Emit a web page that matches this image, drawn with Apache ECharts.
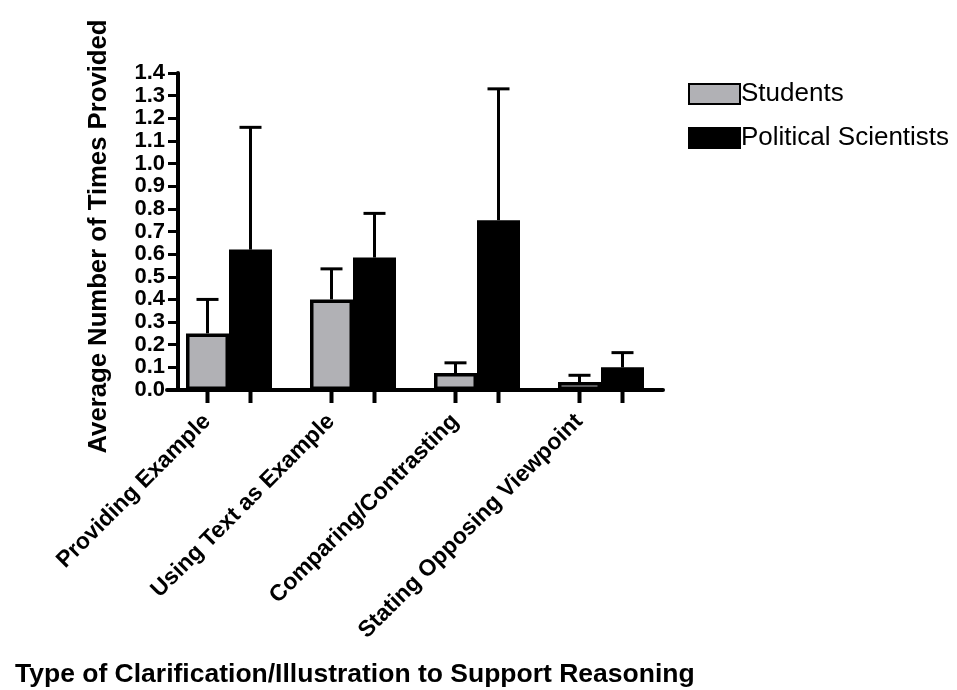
<!DOCTYPE html>
<html>
<head>
<meta charset="utf-8">
<script src="https://cdn.jsdelivr.net/npm/echarts@6/dist/echarts.min.js"></script>
<style>
html,body{margin:0;padding:0;background:#fff;}
#chart{width:957px;height:690px;}
</style>
</head>
<body>
<div id="chart"></div>
<script>
var categories = ["Providing Example", "Using Text as Example", "Comparing/Contrasting", "Stating Opposing Viewpoint"];
var studentsMean = [0.25, 0.40, 0.075, 0.035];
var studentsErr = [0.15, 0.135, 0.045, 0.03];
var politicalMean = [0.62, 0.585, 0.75, 0.10];
var politicalErr = [0.54, 0.195, 0.58, 0.065];
var yTicks = [0.0, 0.1, 0.2, 0.3, 0.4, 0.5, 0.6, 0.7, 0.8, 0.9, 1.0, 1.1, 1.2, 1.3, 1.4];

var FONT = '"Liberation Sans", Arial, Helvetica, sans-serif';
var BAR_W = 43;
var HALF = 21.5;

function errData(means, errs) {
  return means.map(function (m, i) { return [i, m, m + errs[i]]; });
}

function makeErrRender(side) {
  return function (params, api) {
    var idx = api.value(0);
    var base = api.coord([idx, api.value(1)]);
    var top = api.coord([idx, api.value(2)]);
    var zero = api.coord([idx, 0]);
    var x = base[0] + side * HALF;
    var cap = 11;
    var st = { stroke: '#000', lineWidth: 3 };
    return {
      type: 'group',
      children: [
        { type: 'line', shape: { x1: x, y1: base[1], x2: x, y2: top[1] }, style: st },
        { type: 'line', shape: { x1: x - cap, y1: top[1], x2: x + cap, y2: top[1] }, style: st },
        { type: 'line', shape: { x1: x, y1: zero[1], x2: x, y2: zero[1] + 13 }, style: { stroke: '#000', lineWidth: 4 } }
      ]
    };
  };
}

var chart = echarts.init(document.getElementById('chart'), null, { renderer: 'canvas' });
chart.setOption({
  animation: false,
  backgroundColor: '#fff',
  textStyle: { fontFamily: FONT },
  title: {
    text: 'Type of Clarification/Illustration to Support Reasoning',
    left: 10, top: 656,
    textStyle: { fontFamily: FONT, fontWeight: 'bold', fontSize: 26.5, color: '#000' }
  },
  legend: {
    orient: 'vertical',
    left: 688, top: 81,
    itemWidth: 51, itemHeight: 20, itemGap: 18,
    padding: 0,
    icon: 'rect',
    textStyle: { fontFamily: FONT, fontSize: 26, color: '#000', padding: [0, 0, 0, -4] },
    data: ['Students', 'Political Scientists']
  },
  grid: { left: 167, top: 73, width: 496, bottom: 300, containLabel: false },
  xAxis: {
    type: 'category',
    data: categories,
    axisLine: { lineStyle: { color: '#000', width: 4 } },
    axisTick: { show: false },
    axisLabel: {
      rotate: 45, margin: 6, interval: 0,
      padding: [0, 31, 0, 0],
      fontFamily: FONT, fontWeight: 'bold', fontSize: 23, color: '#000'
    }
  },
  yAxis: {
    type: 'value',
    min: 0, max: 1.4, interval: 0.1,
    offset: -11,
    name: 'Average Number of Times Provided',
    nameLocation: 'middle',
    nameGap: 66,
    nameTextStyle: { fontFamily: FONT, fontWeight: 'bold', fontSize: 25.7, color: '#000', padding: [0, 10, 0, 0] },
    axisLine: { show: true, lineStyle: { color: '#000', width: 4 } },
    axisTick: { show: true, length: 10, lineStyle: { color: '#000', width: 3 } },
    splitLine: { show: false },
    axisLabel: {
      margin: 13,
      fontFamily: FONT, fontWeight: 'bold', fontSize: 22, color: '#000',
      formatter: function (v) { return v.toFixed(1); }
    }
  },
  series: [
    {
      name: 'Students', type: 'bar', data: studentsMean,
      barWidth: BAR_W, barGap: '0%',
      itemStyle: { color: '#b1b1b5', borderColor: '#000', borderWidth: 3.5 }
    },
    {
      name: 'Political Scientists', type: 'bar', data: politicalMean,
      barWidth: BAR_W, barGap: '0%',
      itemStyle: { color: '#000', borderColor: '#000', borderWidth: 3.5 }
    },
    {
      type: 'custom', name: 'sErr', data: errData(studentsMean, studentsErr),
      renderItem: makeErrRender(-1), clip: false, z: 1, silent: true,
      encode: { x: 0, y: [1, 2] }
    },
    {
      type: 'custom', name: 'pErr', data: errData(politicalMean, politicalErr),
      renderItem: makeErrRender(1), clip: false, z: 1, silent: true,
      encode: { x: 0, y: [1, 2] }
    }
  ]
});
</script>
</body>
</html>
